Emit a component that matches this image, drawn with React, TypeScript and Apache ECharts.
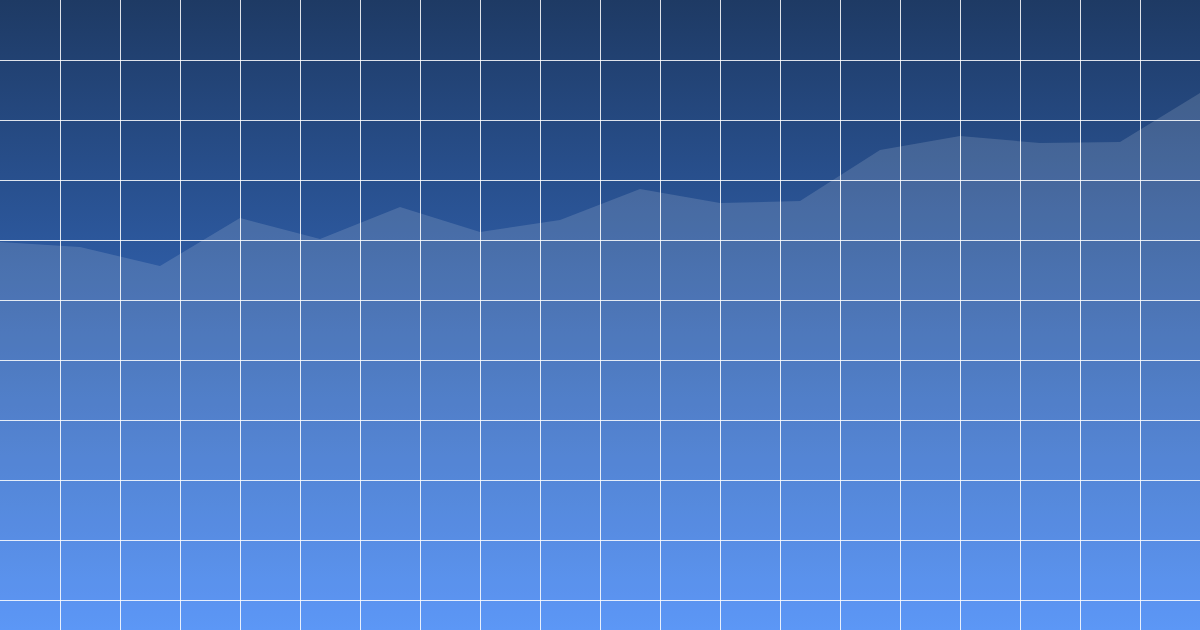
import { useRef, useEffect } from "react";
import * as echarts from "echarts";

// 16 samples across the width
const weeks = [
  "W1", "W2", "W3", "W4", "W5", "W6", "W7", "W8",
  "W9", "W10", "W11", "W12", "W13", "W14", "W15", "W16",
];
const values = [388, 383, 364, 412, 391, 423, 398, 410, 441, 427, 429, 480, 494, 487, 488, 537];

// grid background: 20 columns, rows every 60 units
const columnTicks = [0, 20, 1];
const rowTicks = [0, 630, 60];

export default function App() {
  const chartRef = useRef<HTMLDivElement>(null);

  useEffect(() => {
    if (!chartRef.current) return;
    const chart = echarts.init(chartRef.current, null, { renderer: "svg" });

    const gridLine = {
      show: true,
      showMinLine: false,
      showMaxLine: false,
      lineStyle: { color: "rgba(255,255,255,0.85)", width: 1 },
    };
    const hidden = {
      axisLine: { show: false },
      axisTick: { show: false },
      axisLabel: { show: false },
    };

    const option: echarts.EChartsOption = {
      animation: false,
      backgroundColor: new echarts.graphic.LinearGradient(0, 0, 0, 1, [
        { offset: 0, color: "#1e3a64" },
        { offset: 1, color: "#4286f5" },
      ]),
      grid: { left: 0, right: 0, top: 0, bottom: 0, containLabel: false },
      xAxis: [
        {
          type: "category",
          data: weeks,
          boundaryGap: false,
          splitLine: { show: false },
          ...hidden,
        },
        {
          type: "value",
          min: columnTicks[0],
          max: columnTicks[1],
          interval: columnTicks[2],
          splitLine: gridLine,
          ...hidden,
        },
      ],
      yAxis: [
        {
          type: "value",
          min: 0,
          max: 630,
          splitLine: { show: false },
          ...hidden,
        },
        {
          type: "value",
          inverse: true,
          min: rowTicks[0],
          max: rowTicks[1],
          interval: rowTicks[2],
          splitLine: gridLine,
          ...hidden,
        },
      ],
      series: [
        {
          type: "line",
          xAxisIndex: 0,
          yAxisIndex: 0,
          data: values,
          symbol: "none",
          lineStyle: { width: 0 },
          areaStyle: { color: "rgba(255,255,255,0.2)" },
          z: 1,
        },
      ],
    };

    chart.setOption(option);
    return () => chart.dispose();
  }, []);

  return (
    <div
      ref={chartRef}
      style={{ position: "fixed", left: 0, top: 0, width: "1200px", height: "630px" }}
    />
  );
}
